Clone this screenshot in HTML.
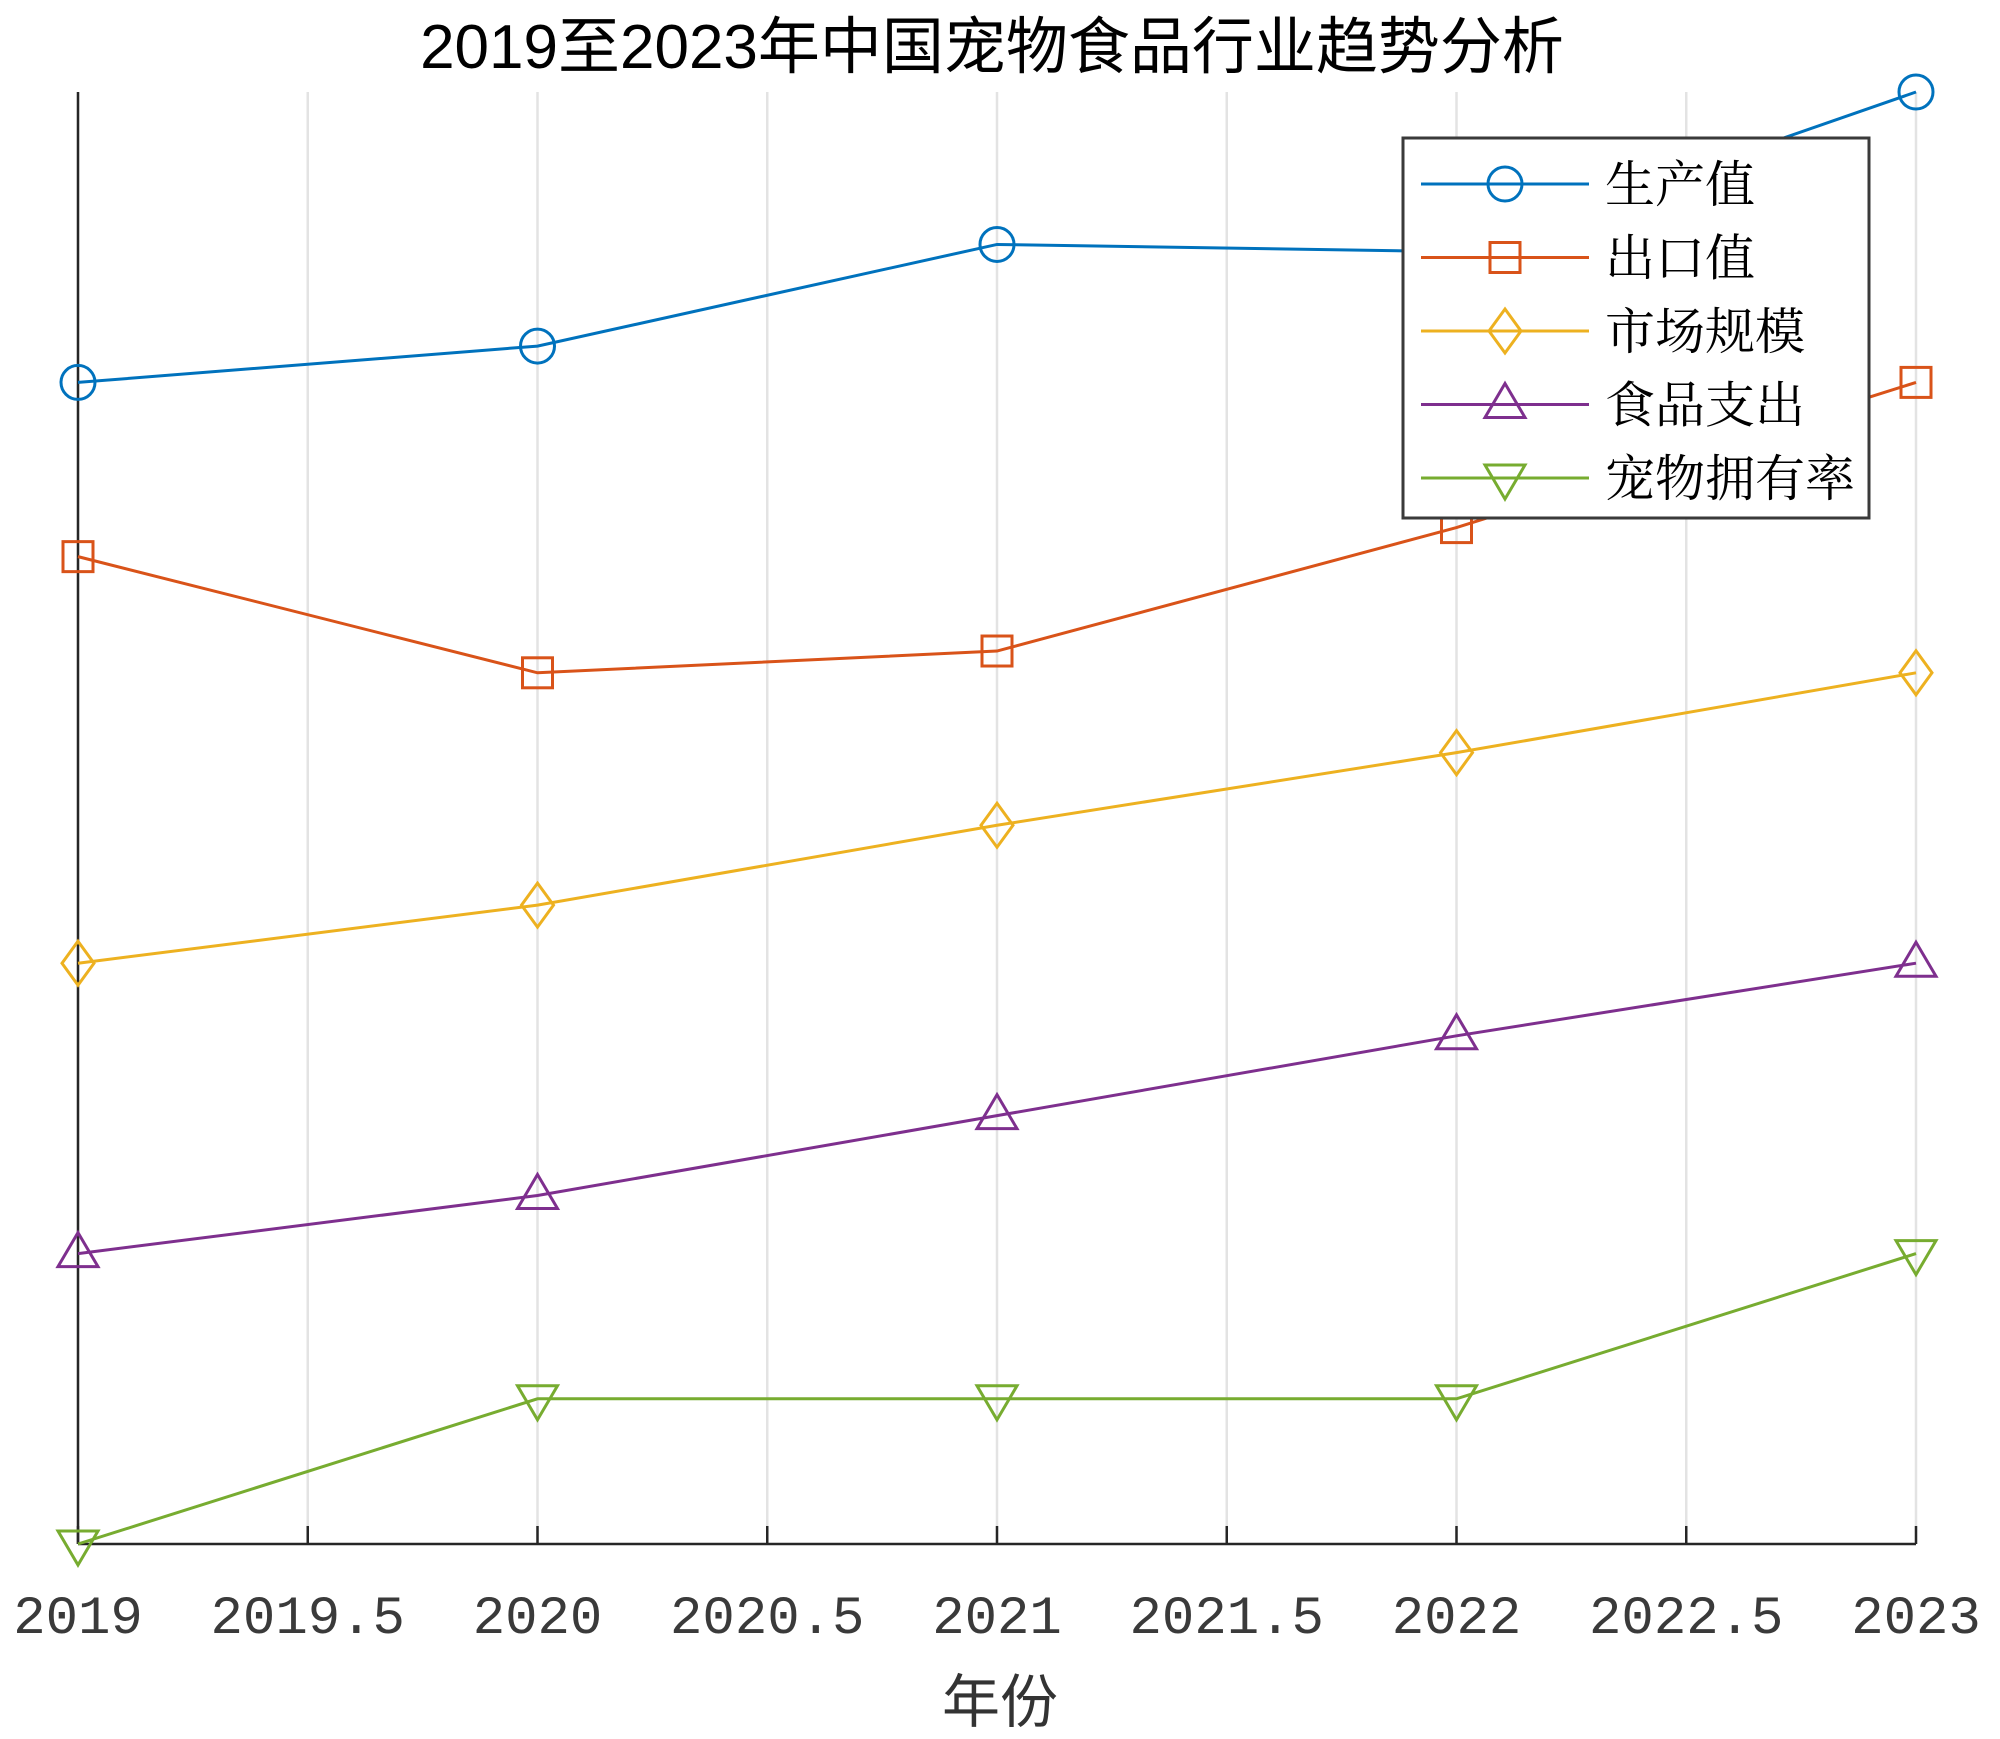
<!DOCTYPE html>
<html><head><meta charset="utf-8"><style>
html,body{margin:0;padding:0;background:#fff;}
svg{display:block;}
</style></head><body>
<svg id="chart" width="2000" height="1739" xmlns="http://www.w3.org/2000/svg">
<rect width="2000" height="1739" fill="#fff"/>
<text x="992" y="68" text-anchor="middle" font-family="Liberation Sans, Noto Sans CJK SC, sans-serif" font-size="62" fill="#000">2019至2023年中国宠物食品行业趋势分析</text>
<g id="grid"></g><g id="axes"></g><g id="series"></g><g id="legend"></g>
<text x="1000" y="1722" text-anchor="middle" font-family="Liberation Sans, Noto Sans CJK SC, sans-serif" font-size="58" fill="#333">年份</text>
</svg>
<script>
const years=[2019,2020,2021,2022,2023];
const xTicks=[2019,2019.5,2020,2020.5,2021,2021.5,2022,2022.5,2023];
const xTickLabels=["2019","2019.5","2020","2020.5","2021","2021.5","2022","2022.5","2023"];
const seriesNames=["生产值","出口值","市场规模","食品支出","宠物拥有率"];
const production=[80,82.5,89.5,89,100];
const exports=[68,60,61.5,70,80];
const marketSize=[40,44,49.5,54.5,60];
const foodSpend=[20,24,29.5,35,40];
const ownership=[0,10,10,10,20];
const allSeries=[production,exports,marketSize,foodSpend,ownership];
const colors=["#0072BD","#D95319","#EDB120","#7E2F8E","#77AC30"];
const markers=["circle","square","diamond","up","down"];
const L=78,R=1916,T=92,B=1544;
const X=v=>L+(v-2019)/4*(R-L);
const Y=v=>B-v/100*(B-T);
const NS="http://www.w3.org/2000/svg";
function mk(tag,attrs,parent){const e=document.createElementNS(NS,tag);for(const k in attrs)e.setAttribute(k,attrs[k]);parent.appendChild(e);return e;}
const grid=document.getElementById('grid'),axes=document.getElementById('axes'),ser=document.getElementById('series'),leg=document.getElementById('legend');
xTicks.forEach((t,i)=>{
 const g=mk('line',{x1:X(t),x2:X(t),y1:T,y2:B,stroke:'#e3e3e3','stroke-width':2.5},grid);
 
 
 const tk=mk('line',{x1:X(t),x2:X(t),y1:B,y2:B-18,stroke:'#262626','stroke-width':2.5},axes);
 
 
 const tl=mk('text',{x:X(t),y:1633,'text-anchor':'middle','font-family':'Liberation Mono, monospace','font-size':54,fill:'#3a3a3a'},axes);
 tl.textContent=xTickLabels[i];
 
 
});
const ya=mk('line',{x1:L,x2:L,y1:T,y2:B,stroke:'#262626','stroke-width':2.5},axes);


const xa=mk('line',{x1:L,x2:R,y1:B,y2:B,stroke:'#262626','stroke-width':2.5},axes);


function marker(type,cx,cy,c,p){
 const a={fill:'none',stroke:c,'stroke-width':3};let e;
 if(type==='circle'){e=mk('circle',Object.assign({cx,cy,r:17},a),p);}
 else if(type==='square'){e=mk('rect',Object.assign({x:cx-15,y:cy-15,width:30,height:30},a),p);}
 else if(type==='diamond'){e=mk('polygon',Object.assign({points:`${cx},${cy-22} ${cx+16},${cy} ${cx},${cy+22} ${cx-16},${cy}`},a),p);}
 else if(type==='up'){e=mk('polygon',Object.assign({points:`${cx},${cy-21} ${cx+20},${cy+13} ${cx-20},${cy+13}`},a),p);}
 else {e=mk('polygon',Object.assign({points:`${cx},${cy+21} ${cx+20},${cy-13} ${cx-20},${cy-13}`},a),p);}
 return e;
}
allSeries.forEach((s,si)=>{
 const g=mk('g',{},ser);
 
 
 const pl=mk('polyline',{points:s.map((v,i)=>X(years[i])+','+Y(v)).join(' '),fill:'none',stroke:colors[si],'stroke-width':3},g);
 
 
 s.forEach((v,i)=>{
  const m=marker(markers[si],X(years[i]),Y(v),colors[si],g);
  
  
 });
});
const box=mk('rect',{x:1403,y:138,width:466,height:380,fill:'#fff',stroke:'#3a3a3a','stroke-width':3},leg);


seriesNames.forEach((n,i)=>{
 const y=184+i*73.5;
 const g=mk('g',{},leg);
 
 
 mk('line',{x1:1421,x2:1589,y1:y,y2:y,stroke:colors[i],'stroke-width':3},g);
 marker(markers[i],1505,y,colors[i],g);
 const t=mk('text',{x:1605,y:y+18,'font-family':'Liberation Serif, Noto Serif CJK SC, serif','font-size':50,fill:'#000'},g);
 t.textContent=n;
});
</script>
</body></html>
